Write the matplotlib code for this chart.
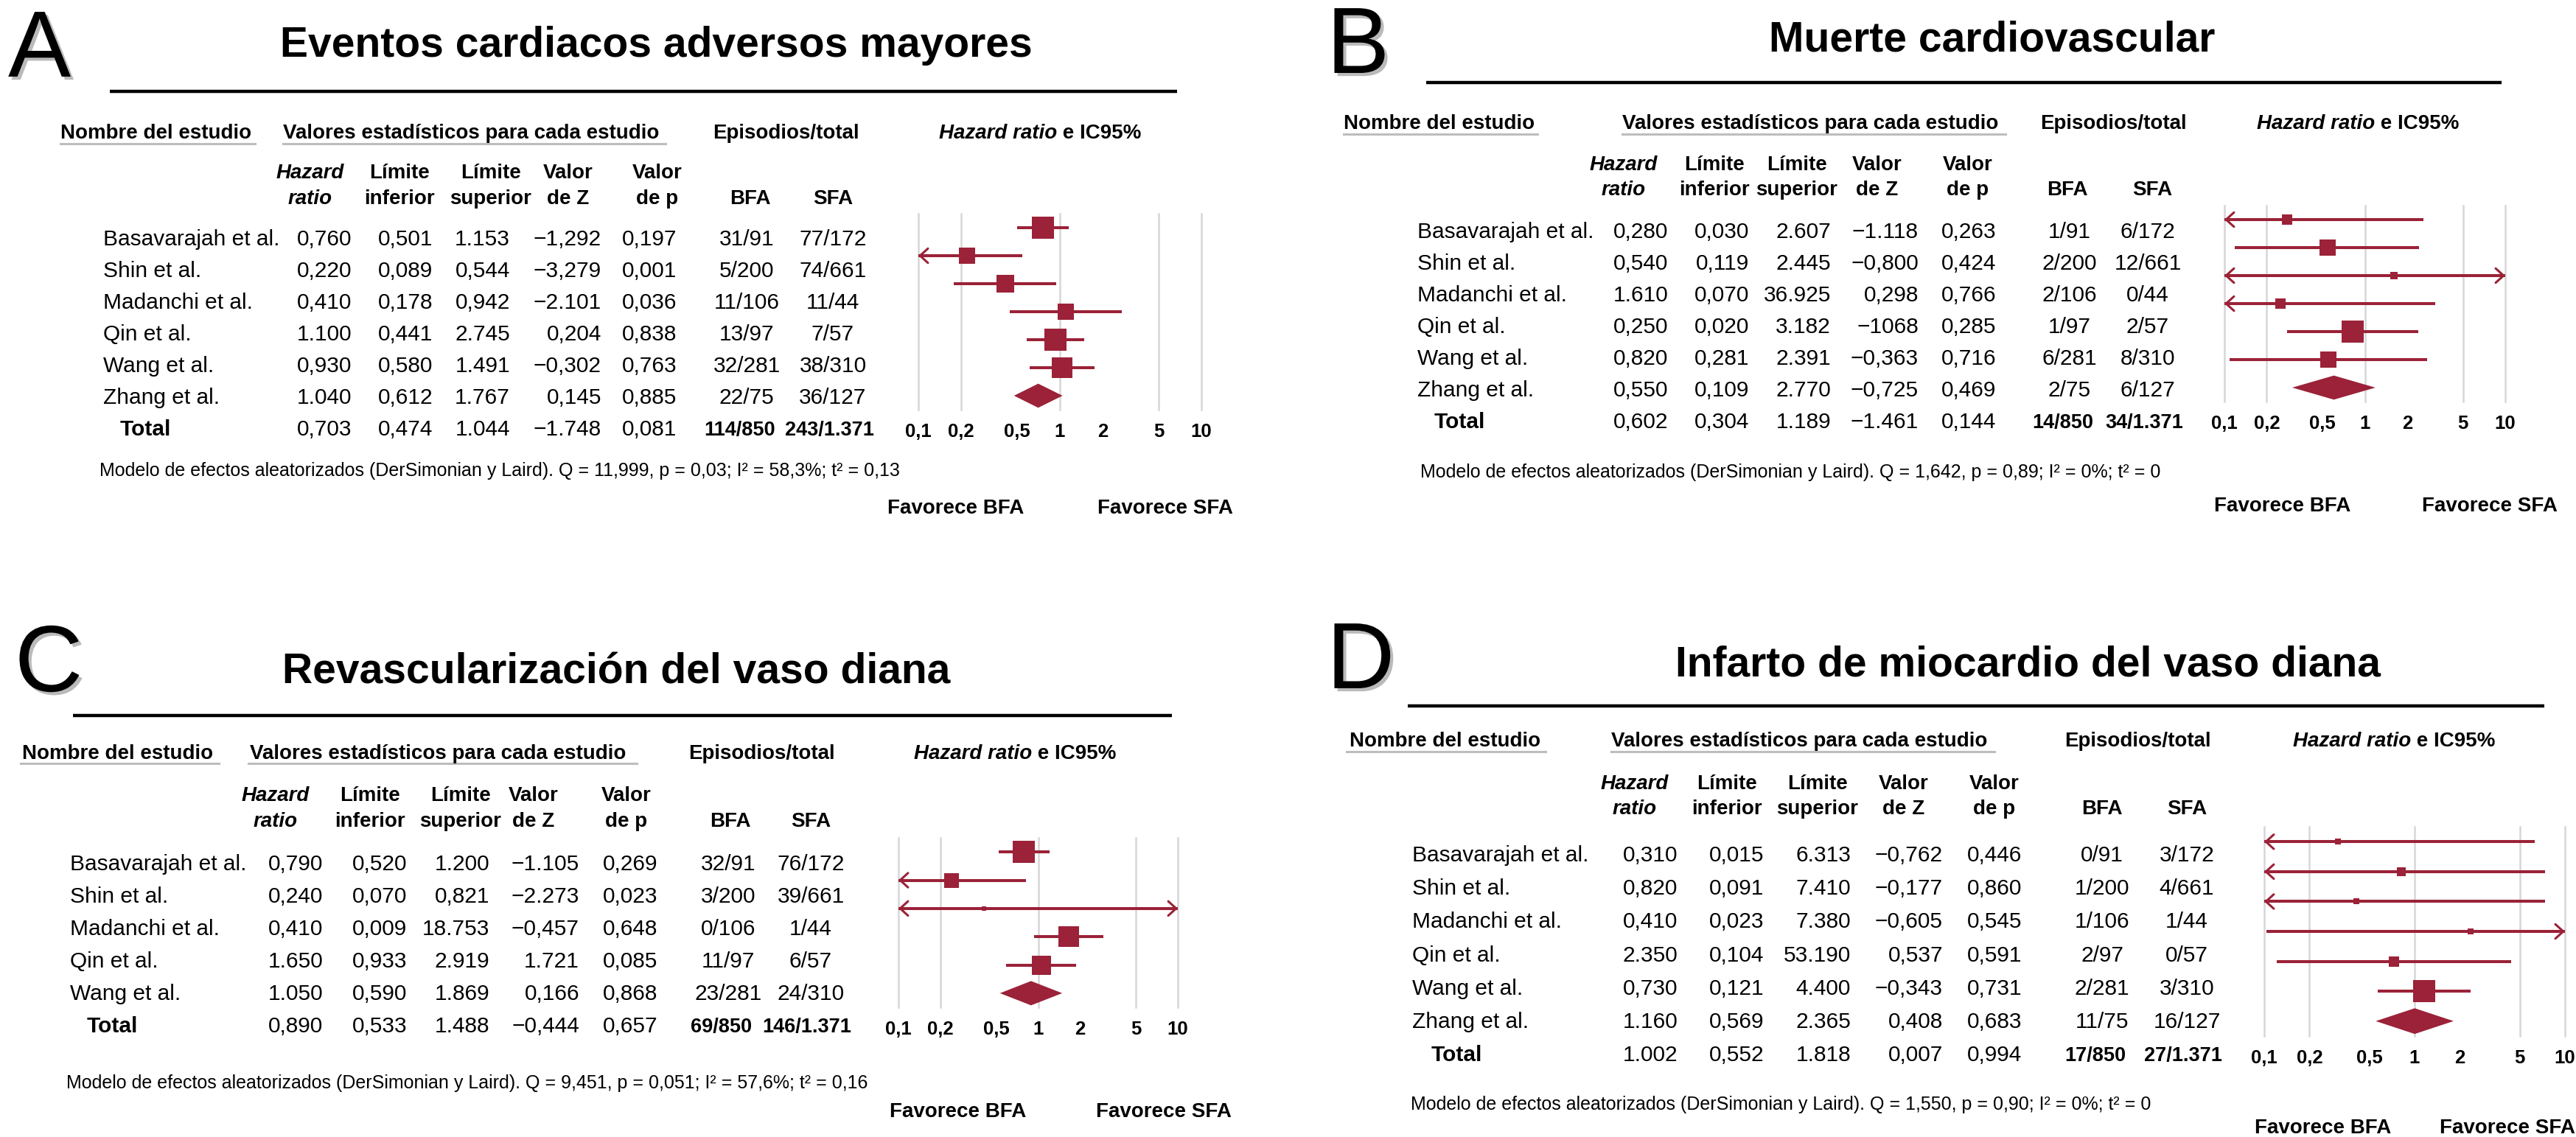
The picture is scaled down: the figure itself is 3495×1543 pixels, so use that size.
import matplotlib
matplotlib.use('Agg')
import matplotlib.pyplot as plt
import matplotlib.patheffects as pe
from matplotlib.ticker import NullLocator

plt.rcParams['font.family'] = ['Liberation Sans', 'DejaVu Sans']

W, H = 3495, 1543
RED = '#9b2238'
GRID = '#d6d6d6'

names6 = ['Basavarajah et al.', 'Shin et al.', 'Madanchi et al.', 'Qin et al.',
          'Wang et al.', 'Zhang et al.', 'Total']
names5 = ['Basavarajah et al.', 'Shin et al.', 'Madanchi et al.', 'Qin et al.',
          'Wang et al.', 'Total']

ticks = [0.1, 0.2, 0.5, 1, 2, 5, 10]
tick_labels = ['0,1', '0,2', '0,5', '1', '2', '5', '10']
grid_at = [0.1, 0.2, 1, 5, 10]

# A - eventos cardiacos adversos mayores
a_title = 'Eventos cardiacos adversos mayores'
a_hr = ['0,760', '0,220', '0,410', '1.100', '0,930', '1.040', '0,703']
a_lo = ['0,501', '0,089', '0,178', '0,441', '0,580', '0,612', '0,474']
a_hi = ['1.153', '0,544', '0,942', '2.745', '1.491', '1.767', '1.044']
a_z = ['\u22121,292', '\u22123,279', '\u22122.101', '0,204', '\u22120,302', '0,145', '\u22121.748']
a_p = ['0,197', '0,001', '0,036', '0,838', '0,763', '0,885', '0,081']
a_bfa = ['31/91', '5/200', '11/106', '13/97', '32/281', '22/75', '114/850']
a_sfa = ['77/172', '74/661', '11/44', '7/57', '38/310', '36/127', '243/1.371']
a_wt = [22.3, 12.1, 12.7, 12.1, 21.3, 19.5]
a_note = ('Modelo de efectos aleatorizados (DerSimonian y Laird). '
          'Q = 11,999, p = 0,03; I\u00b2 = 58,3%; t\u00b2 = 0,13')

# B - muerte cardiovascular
b_title = 'Muerte cardiovascular'
b_hr = ['0,280', '0,540', '1.610', '0,250', '0,820', '0,550', '0,602']
b_lo = ['0,030', '0,119', '0,070', '0,020', '0,281', '0,109', '0,304']
b_hi = ['2.607', '2.445', '36.925', '3.182', '2.391', '2.770', '1.189']
b_z = ['\u22121.118', '\u22120,800', '0,298', '\u22121068', '\u22120,363', '\u22120,725', '\u22121.461']
b_p = ['0,263', '0,424', '0,766', '0,285', '0,716', '0,469', '0,144']
b_bfa = ['1/91', '2/200', '2/106', '1/97', '6/281', '2/75', '14/850']
b_sfa = ['6/172', '12/661', '0/44', '2/57', '8/310', '6/127', '34/1.371']
b_wt = [9.3, 20.0, 5.0, 7.5, 39.8, 18.3]
b_note = ('Modelo de efectos aleatorizados (DerSimonian y Laird). '
          'Q = 1,642, p = 0,89; I\u00b2 = 0%; t\u00b2 = 0')

# C - revascularizacion del vaso diana
c_title = 'Revascularización del vaso diana'
c_hr = ['0,790', '0,240', '0,410', '1.650', '1.050', '0,890']
c_lo = ['0,520', '0,070', '0,009', '0,933', '0,590', '0,533']
c_hi = ['1.200', '0,821', '18.753', '2.919', '1.869', '1.488']
c_z = ['\u22121.105', '\u22122.273', '\u22120,457', '1.721', '0,166', '\u22120,444']
c_p = ['0,269', '0,023', '0,648', '0,085', '0,868', '0,657']
c_bfa = ['32/91', '3/200', '0/106', '11/97', '23/281', '69/850']
c_sfa = ['76/172', '39/661', '1/44', '6/57', '24/310', '146/1.371']
c_wt = [33.5, 12.6, 1.3, 27.3, 25.4]
c_note = ('Modelo de efectos aleatorizados (DerSimonian y Laird). '
          'Q = 9,451, p = 0,051; I\u00b2 = 57,6%; t\u00b2 = 0,16')

# D - infarto de miocardio del vaso diana
d_title = 'Infarto de miocardio del vaso diana'
d_hr = ['0,310', '0,820', '0,410', '2.350', '0,730', '1.160', '1.002']
d_lo = ['0,015', '0,091', '0,023', '0,104', '0,121', '0,569', '0,552']
d_hi = ['6.313', '7.410', '7.380', '53.190', '4.400', '2.365', '1.818']
d_z = ['\u22120,762', '\u22120,177', '\u22120,605', '0,537', '\u22120,343', '0,408', '0,007']
d_p = ['0,446', '0,860', '0,545', '0,591', '0,731', '0,683', '0,994']
d_bfa = ['0/91', '1/200', '1/106', '2/97', '2/281', '11/75', '17/850']
d_sfa = ['3/172', '4/661', '1/44', '0/57', '3/310', '16/127', '27/1.371']
d_wt = [3.9, 8.5, 4.6, 4.2, 11.8, 67.0]
d_note = ('Modelo de efectos aleatorizados (DerSimonian y Laird). '
          'Q = 1,550, p = 0,90; I\u00b2 = 0%; t\u00b2 = 0')

panels = [
    dict(letter='A', title=a_title, names=names6, hr=a_hr, lo=a_lo, hi=a_hi, z=a_z, p=a_p,
         bfa=a_bfa, sfa=a_sfa, wt=a_wt, note=a_note),
    dict(letter='B', title=b_title, names=names6, hr=b_hr, lo=b_lo, hi=b_hi, z=b_z, p=b_p,
         bfa=b_bfa, sfa=b_sfa, wt=b_wt, note=b_note),
    dict(letter='C', title=c_title, names=names5, hr=c_hr, lo=c_lo, hi=c_hi, z=c_z, p=c_p,
         bfa=c_bfa, sfa=c_sfa, wt=c_wt, note=c_note),
    dict(letter='D', title=d_title, names=names6, hr=d_hr, lo=d_lo, hi=d_hi, z=d_z, p=d_p,
         bfa=d_bfa, sfa=d_sfa, wt=d_wt, note=d_note),
]

# layout in pixels (y from top)
layouts = [
    dict(letter=(11, 104), title=(890, 77), rule=(149, 1597, 124), head_y=188, ul_y=195,
         head_x=(82, 384, 967, 1274), ul_x=((82, 346), (384, 903)), sub_y=(242, 277),
         sub_x=(421, 542, 666, 771, 892, 1018, 1130), row_y0=333, row_dy=43,
         name_x=140, total_x=163, num_x=(477, 587, 692, 816, 918), ep_x=(1013, 1130),
         note=(135, 646), fav=(1204, 1489, 697), forest=(1246, 1630, 290, 556)),
    dict(letter=(1800, 99), title=(2703, 69), rule=(1935, 3394, 112), head_y=175, ul_y=182,
         head_x=(1823, 2201, 2768, 3062), ul_x=((1823, 2086), (2201, 2721)), sub_y=(231, 265),
         sub_x=(2203, 2326, 2438, 2547, 2670, 2805, 2920), row_y0=323, row_dy=43,
         name_x=1923, total_x=1946, num_x=(2263, 2373, 2484, 2603, 2708), ep_x=(2808, 2914),
         note=(1927, 648), fav=(3004, 3286, 694), forest=(3018, 3399, 279, 545)),
    dict(letter=(20, 938), title=(836, 927), rule=(99, 1590, 971), head_y=1030, ul_y=1036,
         head_x=(30, 339, 934, 1240), ul_x=((28, 297), (337, 864)), sub_y=(1087, 1122),
         sub_x=(374, 502, 625, 724, 850, 991, 1100), row_y0=1181, row_dy=44,
         name_x=95, total_x=118, num_x=(438, 552, 664, 786, 892), ep_x=(988, 1100),
         note=(90, 1477), fav=(1207, 1487, 1516), forest=(1219, 1598, 1137, 1367)),
    dict(letter=(1800, 934), title=(2751, 917), rule=(1910, 3452, 958), head_y=1013, ul_y=1020,
         head_x=(1831, 2186, 2801, 3111), ul_x=((1827, 2097), (2186, 2706)), sub_y=(1071, 1105),
         sub_x=(2218, 2343, 2466, 2583, 2706, 2852, 2967), row_y0=1169, row_dy=45.2,
         name_x=1916, total_x=1942, num_x=(2276, 2393, 2511, 2636, 2743), ep_x=(2852, 2967),
         note=(1914, 1506), fav=(3059, 3310, 1538), forest=(3072, 3480, 1122, 1406)),
]


def num(s):
    return float(s.replace(',', '.'))


fig = plt.figure(figsize=(W / 100, H / 100), dpi=100)
ov = fig.add_axes([0, 0, 1, 1])
ov.set_xlim(0, W)
ov.set_ylim(H, 0)
ov.axis('off')

for d, L in zip(panels, layouts):
    # big letter and title
    ov.text(L['letter'][0], L['letter'][1], d['letter'], fontsize=92, va='baseline',
            path_effects=[pe.withSimplePatchShadow(offset=(3, -3), shadow_rgbFace='#777777', alpha=0.5)])
    ov.text(L['title'][0], L['title'][1], d['title'], fontsize=41, fontweight='bold',
            ha='center', va='baseline')
    x0, x1, yr = L['rule']
    ov.plot([x0, x1], [yr, yr], color='black', lw=3.2, solid_capstyle='butt')

    # column headers
    hy = L['head_y']
    hx = L['head_x']
    ov.text(hx[0], hy, 'Nombre del estudio', fontsize=20, fontweight='bold', va='baseline')
    ov.text(hx[1], hy, 'Valores estadísticos para cada estudio', fontsize=20,
            fontweight='bold', va='baseline')
    ov.text(hx[2], hy, 'Episodios/total', fontsize=20, fontweight='bold', va='baseline')
    t1 = ov.text(hx[3], hy, 'Hazard ratio', fontsize=20, fontweight='bold', style='italic',
                 va='baseline')
    ov.annotate(' e IC95%', xy=(1, 0), xycoords=t1, fontsize=20, fontweight='bold',
                ha='left', va='bottom')
    for ux0, ux1 in L['ul_x']:
        ov.plot([ux0, ux1], [L['ul_y'], L['ul_y']], color='#bdbdbd', lw=2.2)

    sub = [('Hazard', 'ratio'), ('Límite', 'inferior'), ('Límite', 'superior'),
           ('Valor', 'de Z'), ('Valor', 'de p')]
    for (l1, l2), sx in zip(sub, L['sub_x']):
        st = 'italic' if l1 == 'Hazard' else 'normal'
        ov.text(sx, L['sub_y'][0], l1, fontsize=20, fontweight='bold', style=st,
                ha='center', va='baseline')
        ov.text(sx, L['sub_y'][1], l2, fontsize=20, fontweight='bold', style=st,
                ha='center', va='baseline')
    ov.text(L['sub_x'][5], L['sub_y'][1], 'BFA', fontsize=20, fontweight='bold',
            ha='center', va='baseline')
    ov.text(L['sub_x'][6], L['sub_y'][1], 'SFA', fontsize=20, fontweight='bold',
            ha='center', va='baseline')

    # table rows
    n = len(d['names'])
    for i in range(n):
        y = L['row_y0'] + i * L['row_dy']
        last = i == n - 1
        cols = [d['hr'][i], d['lo'][i], d['hi'][i], d['z'][i], d['p'][i]]
        for s, cx in zip(cols, L['num_x']):
            ov.text(cx, y, s, fontsize=21.5, ha='right', va='baseline')
        if last:
            ov.text(L['total_x'], y, d['names'][i], fontsize=21.5, fontweight='bold',
                    va='baseline')
            ov.text(L['ep_x'][0] - 9, y, d['bfa'][i], fontsize=19.5, fontweight='bold',
                    ha='center', va='baseline')
            ov.text(L['ep_x'][1] - 5, y, d['sfa'][i], fontsize=19.5, fontweight='bold',
                    ha='center', va='baseline')
        else:
            ov.text(L['name_x'], y, d['names'][i], fontsize=21.5, va='baseline')
            ov.text(L['ep_x'][0], y, d['bfa'][i], fontsize=21.5, ha='center', va='baseline')
            ov.text(L['ep_x'][1], y, d['sfa'][i], fontsize=21.5, ha='center', va='baseline')

    ov.text(L['note'][0], L['note'][1], d['note'], fontsize=18, va='baseline')
    ov.text(L['fav'][0], L['fav'][2], 'Favorece BFA', fontsize=20, fontweight='bold',
            va='baseline')
    ov.text(L['fav'][1], L['fav'][2], 'Favorece SFA', fontsize=20, fontweight='bold',
            va='baseline')

    # forest plot
    fx0, fx1, fy0, fy1 = L['forest']
    ax = fig.add_axes([fx0 / W, 1 - fy1 / H, (fx1 - fx0) / W, (fy1 - fy0) / H])
    ax.set_xscale('log')
    ax.set_xlim(0.1, 10)
    ax.set_ylim(n, 0)
    for s in ax.spines.values():
        s.set_visible(False)
    ax.set_yticks([])
    ax.set_xticks(ticks)
    ax.set_xticklabels(tick_labels)
    ax.xaxis.set_minor_locator(NullLocator())
    ax.tick_params(axis='x', length=0, pad=13, labelsize=18.5)
    for lbl in ax.get_xticklabels():
        lbl.set_fontweight('bold')
    ax.patch.set_alpha(0)
    for g in grid_at:
        ax.axvline(g, color=GRID, lw=1.8, zorder=0, clip_on=False)

    wmax = max(d['wt'])
    for i in range(n):
        yc = i + 0.5
        hr, lo, hi = num(d['hr'][i]), num(d['lo'][i]), num(d['hi'][i])
        if i == n - 1:
            ax.fill([lo, hr, hi, hr], [yc, yc - 0.43, yc, yc + 0.43], color=RED, lw=0, zorder=3)
            continue
        ax.plot([max(lo, 0.1), min(hi, 10)], [yc, yc], color=RED, lw=2.9,
                solid_capstyle='butt', zorder=2, clip_on=False)
        side = 31 * (d['wt'][i] / wmax) ** 0.5
        ax.plot([hr], [yc], marker='s', ms=side / 1.389, color=RED, mew=0, zorder=3)
        arrow = dict(arrowstyle='->,head_length=0.55,head_width=0.5', color=RED, lw=2.2,
                     shrinkA=0, shrinkB=0, mutation_scale=14)
        if lo < 0.1:
            ax.annotate('', xy=(0.1, yc), xytext=(12, 0), textcoords='offset points',
                        arrowprops=arrow, annotation_clip=False)
        if hi > 10:
            ax.annotate('', xy=(10, yc), xytext=(-12, 0), textcoords='offset points',
                        arrowprops=arrow, annotation_clip=False)

fig.savefig('out.png', dpi=100)
